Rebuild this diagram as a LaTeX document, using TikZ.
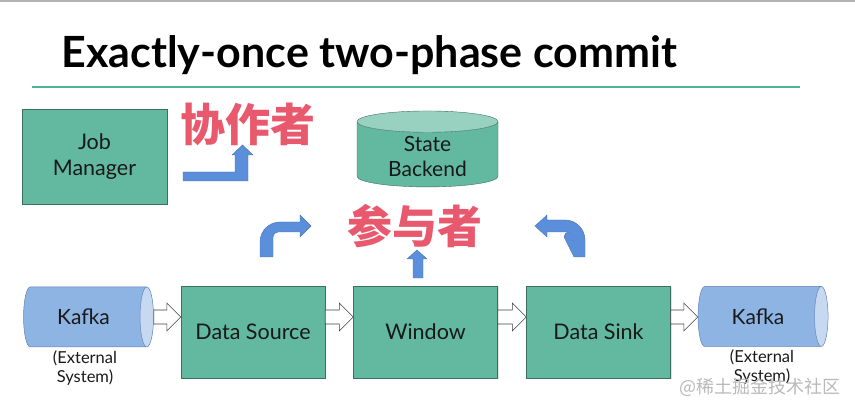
\documentclass[tikz,border=0pt]{standalone}
\usepackage{fontspec}
\setmainfont{Lato}
\newfontfamily\cjk{Noto Sans CJK SC}
\usepackage{tikz}
\usetikzlibrary{shapes.geometric,shadows,calc}
\usepackage{xcolor}
\definecolor{boxgreen}{RGB}{98,185,160}
\definecolor{kafkablue}{RGB}{142,180,227}
\definecolor{kafkaend}{RGB}{198,217,241}
\definecolor{kafkaline}{RGB}{95,130,185}
\definecolor{arrowblue}{RGB}{91,143,219}
\definecolor{rolered}{RGB}{233,89,110}
\definecolor{ruleteal}{RGB}{76,180,152}

\begin{document}
\begin{tikzpicture}[x=1pt,y=-1pt]
\tikzstyle{block} = [rectangle, draw=boxgreen!60!black, line width=0.4pt, fill=boxgreen,
minimum width=144pt, minimum height=92pt, align=center, text=black!90,
font=\fontsize{21.5}{26}\selectfont, drop shadow={opacity=0.25, shadow xshift=1pt, shadow yshift=-1.5pt}]
\tikzstyle{store} = [cylinder, shape border rotate=90, draw=boxgreen!60!black, line width=0.4pt,
cylinder uses custom fill, cylinder body fill=boxgreen, cylinder end fill=boxgreen!65!white,
aspect=0.25, minimum width=141pt, minimum height=70pt, align=center, text=black!90,
font=\fontsize{21}{25}\selectfont]
\tikzstyle{kafka} = [cylinder, draw=kafkaline, line width=0.5pt,
cylinder uses custom fill, cylinder body fill=kafkablue, cylinder end fill=kafkaend,
aspect=0.6, minimum width=60pt, minimum height=130pt, text=black!90,
font=\fontsize{21}{25}\selectfont]
\tikzstyle{note} = [align=center, text=black!90, font=\fontsize{16.5}{19}\selectfont]
\tikzstyle{role} = [text=rolered, font=\cjk\bfseries\fontsize{45}{50}\selectfont]
\tikzstyle{pointer} = [fill=arrowblue, draw=arrowblue!80!black, line width=0.4pt]
\tikzstyle{hollow} = [draw=black!75, fill=white, line width=0.6pt]
\useasboundingbox (0,0) rectangle (855,411);
\fill[gray!60] (0,0) rectangle (855,2.5);

% title
\node[anchor=base west, font=\fontsize{43}{50}\selectfont\bfseries] (title) at (58,68) {Exactly-once two-phase commit};
\draw[ruleteal, line width=2pt] (32,87) -- (800,87);

% coordinator and state
\node[block, minimum width=145pt, minimum height=95pt] (jobmanager) at (94.5,156.5) {Job\\Manager};
\node[role] (coordinator) at (248,124) {协作者};
\node[store] (backend) at (427.5,156) {State\\Backend};
\node[role] (participant) at (415,226) {参与者};

% pipeline
\node[kafka] (kafkain) at (83.5,317) {Kafka};
\node[note] (kafkainnote) at (85,368) {(External\\System)};
\node[block] (source) at (253,332) {Data Source};
\node[block] (window) at (425.5,332) {Window};
\node[block] (sink) at (598.5,332) {Data Sink};
\node[kafka] (kafkaout) at (758,316.5) {Kafka};
\node[note] (kafkaoutnote) at (762,367) {(External\\System)};
\node[text=gray!55, font=\cjk\fontsize{18}{20}\selectfont] (mark) at (760,387) {@稀土掘金技术社区};

\coordinate (flow) at (0,317);
\foreach \a/\b in {kafkain/source, source/window, window/sink, sink/kafkaout}
  \draw[hollow] ($(\a.east |- flow)+(0,-7)$) -- ($(\b.west |- flow)+(-14,-7)$) -- ++(0,-7)
    -- (\b.west |- flow) -- ++(-14,14) -- ++(0,-7) -- ($(\a.east |- flow)+(0,7)$) -- cycle;

% blue arrows
\draw[pointer] (183,172) -- (235,172) -- (235,155) -- (232,155) -- (242.5,145) -- (253,155)
  -- (248,155) -- (248,181) -- (183,181) -- cycle;
\draw[pointer] (260,257) -- (260,242) arc (180:270:20) -- (300,222) -- (300,215) -- (311,226)
  -- (300,237) -- (300,232) -- (278,232) arc (270:180:5) -- (273,257) -- cycle;
\draw[pointer] (585,257) -- (585,240) arc (0:-90:20) -- (547,220) -- (547,215) -- (535,226)
  -- (547,237) -- (547,232) -- (569,232) arc (-90:-180:5) -- (574,257) -- cycle;
\draw[pointer] (413,278) -- (413,259) -- (407,259) -- (417,250) -- (427,259) -- (423,259)
  -- (423,278) -- cycle;
\end{tikzpicture}
\end{document}
